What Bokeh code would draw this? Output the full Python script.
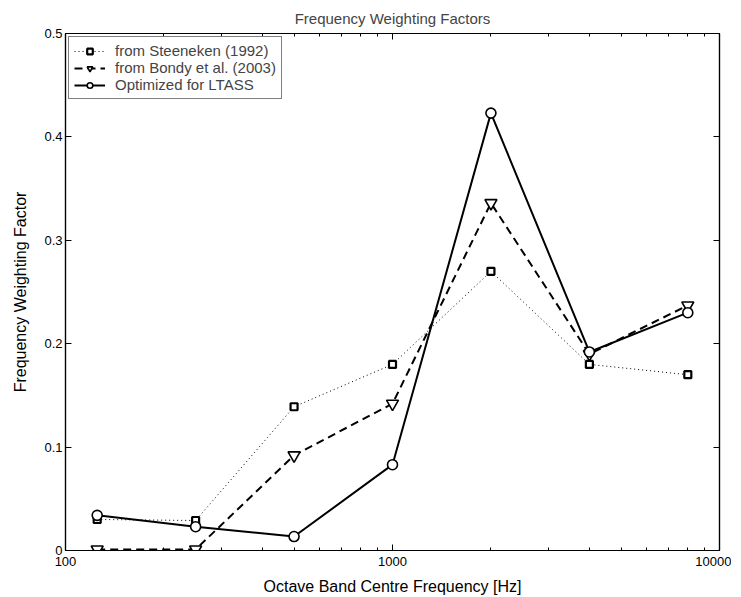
from bokeh.plotting import figure
from bokeh.models import (FixedTicker, LogAxis, LinearAxis, Range1d, Legend, LegendItem)
from bokeh.embed import file_html
from bokeh.resources import INLINE

freqs = [125, 250, 500, 1000, 2000, 4000, 8000]
steeneken = [0.030, 0.029, 0.139, 0.180, 0.270, 0.180, 0.170]
bondy = [0.001, 0.001, 0.092, 0.142, 0.336, 0.190, 0.237]
optimized = [0.034, 0.023, 0.0135, 0.083, 0.423, 0.192, 0.230]

labels = ["from Steeneken (1992)", "from Bondy et al. (2003)", "Optimized for LTASS"]
title_text = "Frequency Weighting Factors"
xlabel = "Octave Band Centre Frequency [Hz]"
ylabel = "Frequency Weighting Factor"
x_ticks = [100, 1000, 10000]
y_ticks = [0, 0.1, 0.2, 0.3, 0.4, 0.5]

FONT = "Liberation Sans"

p = figure(frame_width=654, frame_height=517, x_axis_type="log",
           x_range=Range1d(100, 10000), y_range=Range1d(0, 0.5),
           output_backend="svg", toolbar_location=None,
           min_border_left=65, min_border_right=12, min_border_top=33, min_border_bottom=40)
p.title.text = title_text
p.title.align = "center"
p.title.text_font = FONT
p.title.text_font_style = "normal"
p.title.text_font_size = "15px"
p.title.offset = 0
p.title.standoff = 14

p.grid.visible = False
p.outline_line_color = "black"
p.outline_line_width = 1.2

minor = [m * d for d in (100, 1000) for m in range(2, 10)]

xa = p.xaxis[0]
xa.ticker = FixedTicker(ticks=x_ticks, minor_ticks=minor)
xa.major_label_overrides = {100: "100", 1000: "1000", 10000: "10000"}
ya = p.yaxis[0]
ya.ticker = FixedTicker(ticks=y_ticks)
ya.major_label_overrides = {0: "0", 0.1: "0.1", 0.2: "0.2", 0.3: "0.3", 0.4: "0.4", 0.5: "0.5"}

for ax in (xa, ya):
    ax.major_tick_in = 6
    ax.major_tick_out = 0
    ax.minor_tick_in = 3
    ax.minor_tick_out = 0
    ax.axis_line_color = "black"
    ax.axis_line_width = 1.2
    ax.major_label_text_font = FONT
    ax.major_label_text_font_size = "13px"
    ax.major_label_text_color = "black"
    ax.axis_label_text_font = FONT
    ax.axis_label_text_font_size = "16px"
    ax.axis_label_text_font_style = "normal"
    ax.axis_label_text_color = "black"
xa.major_label_standoff = 6
ya.major_label_standoff = 3
xa.axis_label = xlabel
ya.axis_label = ylabel
xa.axis_label_standoff = 9
ya.axis_label_standoff = 12

top = LogAxis(ticker=FixedTicker(ticks=x_ticks, minor_ticks=minor),
              major_tick_in=6, major_tick_out=0, minor_tick_in=3, minor_tick_out=0,
              major_label_text_font_size="2px", major_label_text_alpha=0,
              major_label_standoff=0, axis_line_width=1.2)
right = LinearAxis(ticker=FixedTicker(ticks=y_ticks),
                   major_tick_in=6, major_tick_out=0, minor_tick_in=0, minor_tick_out=0,
                   major_label_text_font_size="2px", major_label_text_alpha=0,
                   major_label_standoff=0, axis_line_width=1.2)
p.add_layout(top, "above")
p.add_layout(right, "right")

r1l = p.line(freqs, steeneken, line_color="black", line_width=1, line_dash="1 3")
r1m = p.scatter(freqs, steeneken, marker="square", size=7, line_color="black",
                line_width=2.2, fill_color="white")
r2l = p.line(freqs, bondy, line_color="black", line_width=2, line_dash="8 5")
r2m = p.scatter(freqs, bondy, marker="inverted_triangle", size=12, line_color="black",
                line_width=1.6, fill_color="white")
r3l = p.line(freqs, optimized, line_color="black", line_width=2)
r3m = p.scatter(freqs, optimized, marker="circle", size=10, line_color="black",
                line_width=1.6, fill_color="white")

legend = Legend(items=[LegendItem(label=labels[0], renderers=[r1l, r1m]),
                       LegendItem(label=labels[1], renderers=[r2l, r2m]),
                       LegendItem(label=labels[2], renderers=[r3l, r3m])],
                location="top_left")
legend.label_text_font = FONT
legend.label_text_font_size = "15px"
legend.label_height = 14
legend.glyph_height = 14
legend.glyph_width = 31
legend.spacing = 0
legend.padding = 5
legend.margin = 3
legend.label_standoff = 10
legend.border_line_color = "black"
legend.border_line_width = 1.2
legend.background_fill_alpha = 1
p.add_layout(legend)

open("out.html", "w").write(file_html(p, INLINE))
